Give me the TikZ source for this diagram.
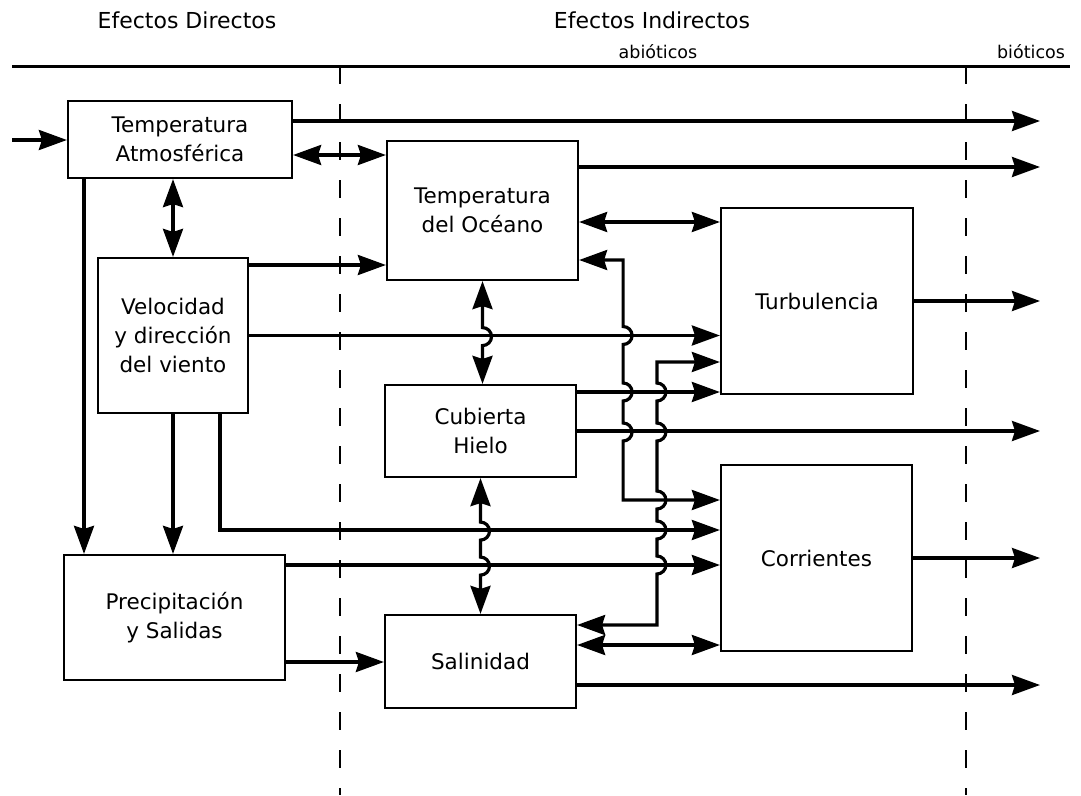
\documentclass[tikz,border=0pt]{standalone}
\usepackage{fontspec}
\setmainfont{DejaVu Sans}
\usetikzlibrary{arrows.meta}
\begin{document}
\begin{tikzpicture}[x=1pt,y=-1pt,
  box/.style={draw, line width=2.2pt, align=center, inner sep=0pt,
    font=\fontsize{21.5}{29}\selectfont},
  tip/.tip={Stealth[length=28pt,width=20pt,inset=3pt]},
  arr/.style={line width=3.2pt, -tip},
  dbl/.style={line width=3.2pt, tip-tip},
  hp/.style={insert path={arc[start angle=-90,end angle=90,radius=9]}},
  divider/.style={line width=2pt, dash pattern=on 18pt off 20pt},
  head/.style={font=\fontsize{22}{26}\selectfont},
  subhead/.style={font=\fontsize{17.5}{20}\selectfont}]
\useasboundingbox (0,0) rectangle (1081,795);

% header
\node[head] (hdir) at (187,20) {Efectos Directos};
\node[head] (hind) at (652,20) {Efectos Indirectos};
\node[subhead] (habio) at (658,52) {abióticos};
\node[subhead] (hbio) at (1031,52) {bióticos};
\draw[line width=3pt] (12,66) -- (1070,66);
\draw[divider] (340,66) -- (340,795);
\draw[divider] (966,66) -- (966,795);

% boxes
\node[box, minimum width=224pt, minimum height=77pt] (tatm) at (180,139.5) {Temperatura\\Atmosférica};
\node[box, minimum width=150pt, minimum height=155pt] (vel) at (173,335.5) {Velocidad\\y dirección\\del viento};
\node[box, minimum width=221pt, minimum height=125pt] (prec) at (174.5,617.5) {Precipitación\\y Salidas};
\node[box, minimum width=191pt, minimum height=139pt] (tocean) at (482.5,210.5) {Temperatura\\del Océano};
\node[box, minimum width=191pt, minimum height=92pt] (hielo) at (480.5,431) {Cubierta\\Hielo};
\node[box, minimum width=191pt, minimum height=93pt] (sal) at (480.5,661.5) {Salinidad};
\node[box, minimum width=192pt, minimum height=186pt] (turb) at (817,301) {Turbulencia};
\node[box, minimum width=191pt, minimum height=186pt] (corr) at (816.5,558) {Corrientes};

\coordinate (src) at (12,140);
\coordinate (rend) at (1040,0);

% atmospheric temperature
\draw[arr] (src) -- (src -| tatm.west);
\draw[arr] ([yshift=18.5pt]tatm.east) coordinate (s) -- (s -| rend);
\draw[dbl] ([yshift=-15.5pt]tatm.east) coordinate (s) -- (s -| tocean.west);
\draw[dbl] (vel.north) -- (vel.north |- tatm.south);
\draw[arr] ([xshift=-96pt]tatm.south) coordinate (s) -- (s |- prec.north);

% wind
\draw[arr] ([yshift=70.5pt]vel.east) coordinate (s) -- (s -| tocean.west);
\draw[arr] (vel.east) -- (vel.east -| turb.west);
\draw[arr] (vel.south) -- (vel.south |- prec.north);
\draw[arr] ([xshift=47pt]vel.south) |- ([yshift=28pt]corr.west);

% precipitation
\draw[arr] ([yshift=52.5pt]prec.east) coordinate (s) -- (s -| corr.west);
\draw[arr] ([yshift=-44.5pt]prec.east) coordinate (s) -- (s -| sal.west);

% ocean temperature
\draw[arr] ([yshift=43.5pt]tocean.east) coordinate (s) -- (s -| rend);
\draw[dbl] ([yshift=-11.5pt]tocean.east) coordinate (s) -- (s -| turb.west);
\draw[dbl] (tocean.south) -- ++(0,46.5) [hp] -- (tocean.south |- hielo.north);
\draw[dbl] ([yshift=-49.5pt]tocean.east) -- ++(44,0) -- ++(0,66.5) [hp]
  -- ++(0,38.5) [hp] -- ++(0,22) [hp] |- ([yshift=58pt]corr.west);

% ice cover
\draw[arr] ([yshift=39pt]hielo.east) coordinate (s) -- (s -| turb.west);
\draw[arr] (hielo.east) -- (hielo.east -| rend);
\draw[dbl] (hielo.south) -- ++(0,44) [hp] -- ++(0,17) [hp] -- (hielo.south |- sal.north);

% salinity
\draw[dbl] ([yshift=-61pt]turb.west) -- ++(-63,0) -- ++(0,21) [hp] -- ++(0,22) [hp]
  -- ++(0,50) [hp] -- ++(0,12) [hp] -- ++(0,17) [hp] |- ([yshift=36.5pt]sal.east);
\draw[dbl] ([yshift=16.5pt]sal.east) coordinate (s) -- (s -| corr.west);
\draw[arr] ([yshift=-23.5pt]sal.east) coordinate (s) -- (s -| rend);

% turbulence and currents
\draw[arr] (turb.east) -- (turb.east -| rend);
\draw[arr] (corr.east) -- (corr.east -| rend);
\end{tikzpicture}
\end{document}
